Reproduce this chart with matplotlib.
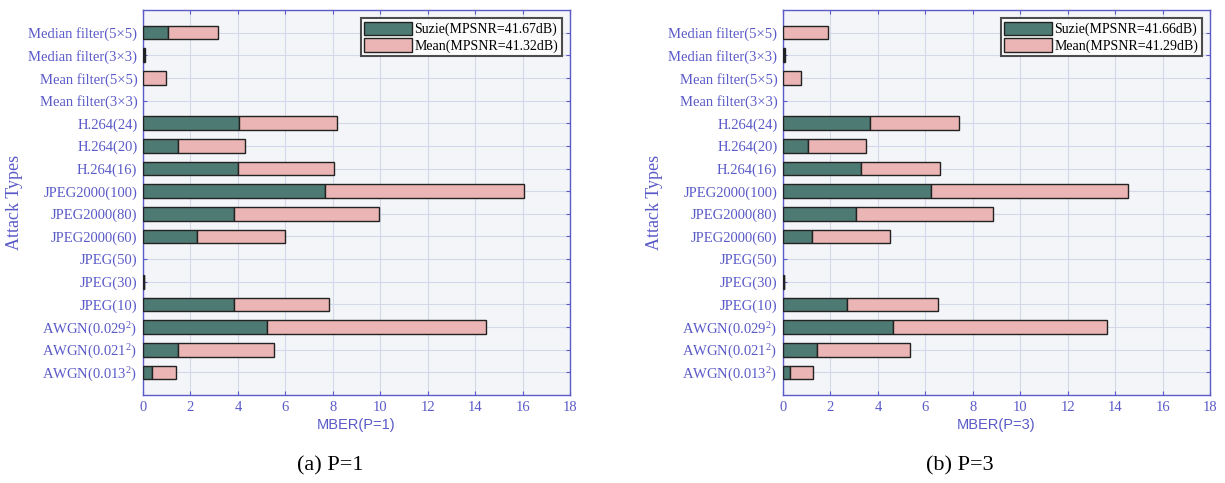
import matplotlib

matplotlib.use("Agg")

import matplotlib.pyplot as plt
import numpy as np

# Attack categories, listed bottom -> top
attacks = [
    r"AWGN(0.013$^{2}$)", r"AWGN(0.021$^{2}$)", r"AWGN(0.029$^{2}$)",
    "JPEG(10)", "JPEG(30)", "JPEG(50)",
    "JPEG2000(60)", "JPEG2000(80)", "JPEG2000(100)",
    "H.264(16)", "H.264(20)", "H.264(24)",
    "Mean filter(3×3)", "Mean filter(5×5)",
    "Median filter(3×3)", "Median filter(5×5)",
]

# P=1
suzie_p1 = [0.36, 1.49, 5.23, 3.85, 0.03, 0.0, 2.28, 3.85, 7.69, 4.00, 1.49, 4.03, 0.0, 0.0, 0.05, 1.05]
mean_p1 = [1.03, 4.04, 9.22, 3.97, 0.03, 0.0, 3.71, 6.10, 8.38, 4.07, 2.80, 4.13, 0.0, 0.95, 0.05, 2.11]

# P=3
suzie_p3 = [0.29, 1.44, 4.63, 2.71, 0.03, 0.0, 1.21, 3.08, 6.22, 3.28, 1.04, 3.66, 0.0, 0.0, 0.04, 0.0]
mean_p3 = [0.98, 3.92, 9.01, 3.83, 0.03, 0.0, 3.29, 5.77, 8.32, 3.35, 2.45, 3.78, 0.0, 0.75, 0.04, 1.89]

legend_p1 = ["Suzie(MPSNR=41.67dB)", "Mean(MPSNR=41.32dB)"]
legend_p3 = ["Suzie(MPSNR=41.66dB)", "Mean(MPSNR=41.29dB)"]

SUZIE_COLOR = "#4e7a74"
MEAN_COLOR = "#eab5b4"
BLUE = "#5a5ac8"
SERIF = ["Liberation Serif", "DejaVu Serif"]

plt.rcParams["font.family"] = SERIF
plt.rcParams["mathtext.fontset"] = "custom"
plt.rcParams["mathtext.rm"] = "Liberation Serif"
plt.rcParams["mathtext.it"] = "Liberation Serif:italic"


def draw_panel(ax, suzie, mean, labels, xlabel):
    y = np.arange(1, len(attacks) + 1)
    # no outline on empty bars
    lw_s = [1.0 if v > 0 else 0 for v in suzie]
    lw_m = [1.0 if v > 0 else 0 for v in mean]
    ax.set_facecolor("#f3f5f8")
    ax.barh(y, suzie, height=0.6, color=SUZIE_COLOR, edgecolor="#222222",
            linewidth=lw_s, label=labels[0], zorder=3)
    ax.barh(y, mean, left=suzie, height=0.6, color=MEAN_COLOR,
            edgecolor="#222222", linewidth=lw_m, label=labels[1], zorder=3)
    ax.set_xlim(0, 18)
    ax.set_ylim(0, len(attacks) + 1)
    ax.set_xticks(np.arange(0, 19, 2))
    ax.set_yticks(y)
    ax.set_yticklabels(attacks)
    ax.grid(True, color="#d3d8ea", linewidth=0.8, zorder=0)
    ax.tick_params(direction="in", colors=BLUE, labelsize=10.5, length=3,
                   top=True, right=True, labelcolor=BLUE, pad=4)
    for sp in ax.spines.values():
        sp.set_color(BLUE)
        sp.set_linewidth(1.0)
    ax.set_xlabel(xlabel, color=BLUE, fontsize=10.5, family=["Liberation Sans"],
                  labelpad=3)
    ax.set_ylabel("Attack Types", color=BLUE, fontsize=13, labelpad=4)
    leg = ax.legend(loc="upper right", fontsize=10, frameon=True, fancybox=False,
                    edgecolor="#222222", handlelength=3.4, handleheight=1.1,
                    borderaxespad=0.6, borderpad=0.25, labelspacing=0.15,
                    handletextpad=0.2)
    leg.get_frame().set_linewidth(1.5)
    leg.get_frame().set_facecolor("white")
    leg.legend_handles[0].set_linewidth(1.0)
    leg.legend_handles[1].set_linewidth(1.0)


fig = plt.figure(figsize=(12.25, 4.83), dpi=100)
ax1 = fig.add_axes([143 / 1225, 1 - 395 / 483, 427 / 1225, 385 / 483])
ax2 = fig.add_axes([783 / 1225, 1 - 395 / 483, 427 / 1225, 385 / 483])

draw_panel(ax1, suzie_p1, mean_p1, legend_p1, "MBER(P=1)")
draw_panel(ax2, suzie_p3, mean_p3, legend_p3, "MBER(P=3)")

fig.text(330 / 1225, 1 - 466 / 483, "(a) P=1", ha="center", va="center",
         fontsize=16, color="black")
fig.text(960 / 1225, 1 - 466 / 483, "(b) P=3", ha="center", va="center",
         fontsize=16, color="black")

fig.savefig("out.png", dpi=100, facecolor="white")
plt.close(fig)
